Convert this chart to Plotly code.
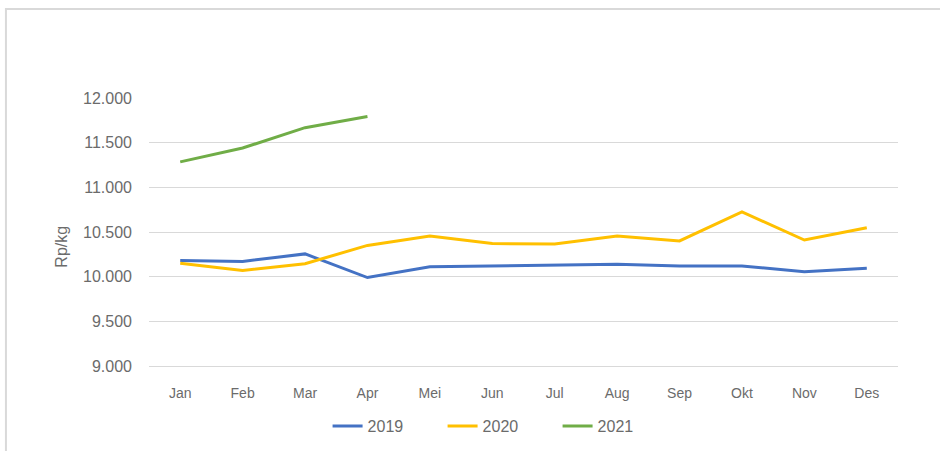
import plotly.graph_objects as go

months = ["Jan", "Feb", "Mar", "Apr", "Mei", "Jun", "Jul", "Aug", "Sep", "Okt", "Nov", "Des"]
y2019 = [10180, 10170, 10255, 9990, 10110, 10120, 10135, 10140, 10120, 10120, 10055, 10095]
y2020 = [10150, 10070, 10145, 10350, 10455, 10370, 10365, 10455, 10400, 10725, 10410, 10548]
y2021 = [11285, 11440, 11668, 11792]
months2021 = months[:len(y2021)]

colors = {"2019": "#4472C4", "2020": "#FFC000", "2021": "#70AD47"}

fig = go.Figure()
fig.add_trace(go.Scatter(x=months, y=y2019, name="2019", mode="lines",
                         line=dict(color=colors["2019"], width=3)))
fig.add_trace(go.Scatter(x=months, y=y2020, name="2020", mode="lines",
                         line=dict(color=colors["2020"], width=3)))
fig.add_trace(go.Scatter(x=months2021, y=y2021, name="2021", mode="lines",
                         line=dict(color=colors["2021"], width=3)))

fig.update_layout(
    width=940, height=451,
    margin=dict(l=149, r=42, t=98, b=85, autoexpand=False),
    paper_bgcolor="white", plot_bgcolor="white",
    separators=",.",
    font=dict(family="Liberation Sans, Arial, sans-serif", size=14, color="#6b6b6b"),
    showlegend=True,
    legend=dict(orientation="h", xref="container", yref="container",
                x=0.532, xanchor="center", y=0.055, yanchor="middle",
                font=dict(size=16, color="#6b6b6b"), tracegroupgap=0,
                entrywidth=70, entrywidthmode="pixels"),
    shapes=[dict(type="rect", xref="paper", yref="paper",
                 x0=-0.191, x1=1.2, y0=-0.5, y1=1.332,
                 line=dict(color="#d9d9d9", width=2), layer="below")],
    annotations=[dict(text="Rp/kg", xref="paper", yref="paper", x=-0.132, y=0.444,
                      textangle=-90, showarrow=False,
                      font=dict(size=16, color="#6b6b6b"))],
)
fig.update_xaxes(type="category", categoryorder="array", categoryarray=months,
                 range=[-0.5, 11.5], showgrid=False, showline=True,
                 linecolor="#d9d9d9", linewidth=1, ticks="", ticklabelstandoff=14,
                 tickfont=dict(size=14))
fig.update_yaxes(range=[9000, 12000], dtick=500, tickformat=",d",
                 showgrid=True, gridcolor="#d9d9d9", gridwidth=1,
                 zeroline=False, showline=False, ticks="", ticklabelstandoff=16,
                 tickfont=dict(size=16))

fig.write_html("out.html", config={"displayModeBar": False},
               post_script="document.body.style.margin='0';")
